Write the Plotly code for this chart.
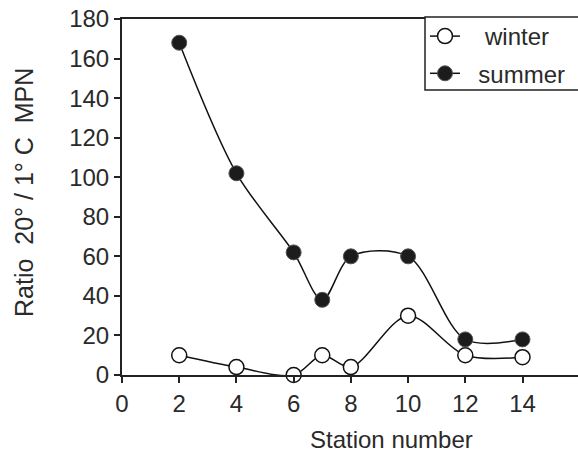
import plotly.graph_objects as go

stations = [2, 4, 6, 7, 8, 10, 12, 14]
winter = [10, 4, 0, 10, 4, 30, 10, 9]
summer = [168, 102, 62, 38, 60, 60, 18, 18]
x_ticks = [0, 2, 4, 6, 8, 10, 12, 14]
y_ticks = [0, 20, 40, 60, 80, 100, 120, 140, 160, 180]

FONT = "Liberation Sans"
TXT = "#2a2a2a"
fig = go.Figure()
fig.add_trace(go.Scatter(
    x=stations, y=winter, name="   winter", mode="lines+markers", legendgroup="w",
    line=dict(color="#111", width=1.5, shape="spline", smoothing=0.9),
    marker=dict(symbol="circle", size=15, color="white", line=dict(color="#111", width=1.5)),
    cliponaxis=False))
fig.add_trace(go.Scatter(
    x=stations, y=summer, name="  summer", mode="lines+markers", legendgroup="s",
    line=dict(color="#111", width=1.5, shape="spline", smoothing=0.9),
    marker=dict(symbol="circle", size=15, color="#1c1c1c", line=dict(color="#555", width=1)),
    cliponaxis=False))

W = 578 - 122
H = 453 - 19 - 78
fig.update_layout(
    width=578, height=453,
    margin=dict(l=122, r=0, t=19, b=78, autoexpand=False),
    plot_bgcolor="white", paper_bgcolor="white",
    font=dict(family=FONT, size=24, color=TXT),
    showlegend=True,
    legend=dict(x=(425 - 122) / W, y=(375 - 14) / H, xanchor="left", yanchor="top",
                bgcolor="rgba(0,0,0,0)", borderwidth=0,
                font=dict(size=24), itemwidth=30, tracegroupgap=3,
                traceorder="grouped"),
    shapes=[dict(type="rect", xref="paper", yref="paper",
                 x0=(425 - 122) / W, x1=1.05, y0=(375 - 90) / H, y1=(375 - 17) / H,
                 fillcolor="white", line=dict(color="#222", width=1.5), layer="above")],
    xaxis=dict(range=[0, 15.94], tickvals=x_ticks, ticks="outside", ticklen=6,
               tickwidth=1.5, tickcolor="#222", showline=True, linecolor="#222",
               linewidth=2, mirror=True, showgrid=False, zeroline=False,
               automargin=False),
    yaxis=dict(range=[0, 180], tickvals=y_ticks, ticks="outside", ticklen=6,
               tickwidth=1.5, tickcolor="#222", showline=True, linecolor="#222",
               linewidth=2, showgrid=False, zeroline=False, automargin=False),
    annotations=[
        dict(text="Station number", x=(391 - 122) / W, y=(375 - 439) / H,
             xref="paper", yref="paper", xanchor="center", yanchor="middle",
             showarrow=False, font=dict(size=24)),
        dict(text="Ratio  20° / 1° C  MPN", textangle=-90, xref="paper", yref="paper",
             x=(24 - 122) / W, y=(375 - 193) / H, xanchor="center", yanchor="middle",
             showarrow=False, font=dict(size=25)),
    ],
)
fig.write_html("out.html", config={"displayModeBar": False},
               post_script="document.body.style.margin='0';")
